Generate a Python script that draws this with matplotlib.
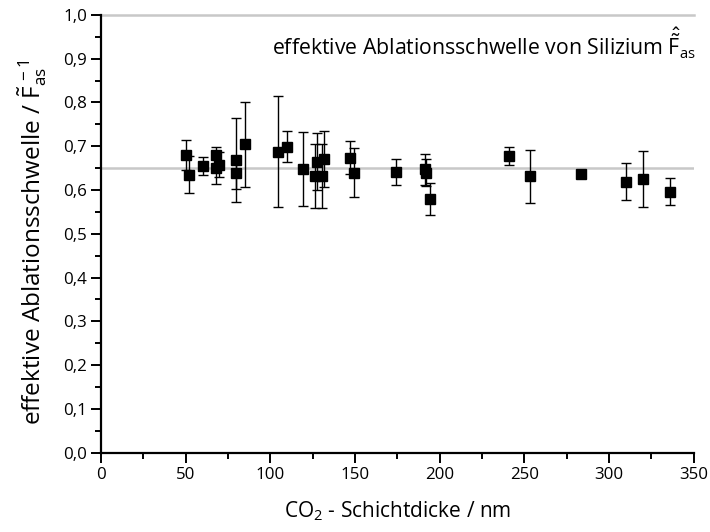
import matplotlib
matplotlib.use("Agg")
import matplotlib.pyplot as plt
from matplotlib.ticker import MultipleLocator, FuncFormatter

plt.rcParams['font.family'] = ['Open Sans', 'DejaVu Sans']
plt.rcParams['mathtext.fontset'] = 'custom'
plt.rcParams['mathtext.rm'] = 'Open Sans'
plt.rcParams['mathtext.it'] = 'Open Sans'
plt.rcParams['mathtext.bf'] = 'Open Sans:bold'

# data: CO2 layer thickness (nm), effective ablation threshold, error
thickness = [50.3, 52.3, 60.1, 67.9, 69.9, 67.9, 80.0, 80.0, 85.1, 104.7, 109.8,
             119.6, 127.6, 126.7, 130.5, 131.7, 147.4, 149.7, 174.2, 191.3, 192.0,
             194.2, 240.7, 253.5, 283.2, 310.0, 320.0, 336.0]
threshold = [0.680, 0.635, 0.655, 0.679, 0.658, 0.650, 0.669, 0.640, 0.705, 0.688, 0.699,
             0.648, 0.665, 0.631, 0.631, 0.670, 0.674, 0.640, 0.641, 0.647, 0.640,
             0.580, 0.678, 0.631, 0.637, 0.619, 0.626, 0.596]
error = [0.035, 0.042, 0.020, 0.020, 0.029, 0.037, 0.096, 0.037, 0.097, 0.127, 0.036,
         0.084, 0.065, 0.073, 0.073, 0.064, 0.037, 0.055, 0.030, 0.036, 0.030,
         0.037, 0.020, 0.061, 0.005, 0.042, 0.064, 0.031]
mean_threshold = 0.65

fig = plt.figure(figsize=(7.10, 5.32), dpi=100)
ax = fig.add_axes([0.142, 0.149, 0.835, 0.823])

ax.axhline(mean_threshold, color='#c8c8c8', lw=1.8, zorder=1)
ax.axhline(1.0, color='#c8c8c8', lw=1.8, zorder=1, clip_on=False)

ax.errorbar(thickness, threshold, yerr=error, fmt='s', color='black',
            ecolor='black', elinewidth=1.0, capsize=3.4, capthick=1.0,
            markersize=7.3, zorder=3)

ax.set_xlim(0, 350)
ax.set_ylim(0, 1.0)
ax.xaxis.set_major_locator(MultipleLocator(50))
ax.xaxis.set_minor_locator(MultipleLocator(25))
ax.yaxis.set_major_locator(MultipleLocator(0.1))
ax.yaxis.set_minor_locator(MultipleLocator(0.05))
ax.yaxis.set_major_formatter(FuncFormatter(lambda v, p: f"{v:.1f}".replace('.', ',')))

for s in ['top', 'right']:
    ax.spines[s].set_visible(False)
for s in ['left', 'bottom']:
    ax.spines[s].set_linewidth(1.6)

ax.tick_params(which='major', direction='out', length=7, width=1.4, labelsize=12.2, pad=3)
ax.tick_params(which='minor', direction='out', length=4, width=1.4)

ax.set_xlabel(r'CO$_2$ - Schichtdicke / nm', fontsize=15, labelpad=12)
ax.set_ylabel(r'effektive Ablationsschwelle / $\tilde{\mathrm{F}}_{\mathrm{as}}^{\,-1}$', fontsize=17.5)
ax.yaxis.set_label_coords(-0.088, 0.48)

ax.text(1.004, 0.936, r'effektive Ablationsschwelle von Silizium $\hat{\tilde{\mathrm{F}}}_{\mathrm{as}}$',
        transform=ax.transAxes, ha='right', va='center', fontsize=15.3)

fig.savefig('out.png', dpi=100)
